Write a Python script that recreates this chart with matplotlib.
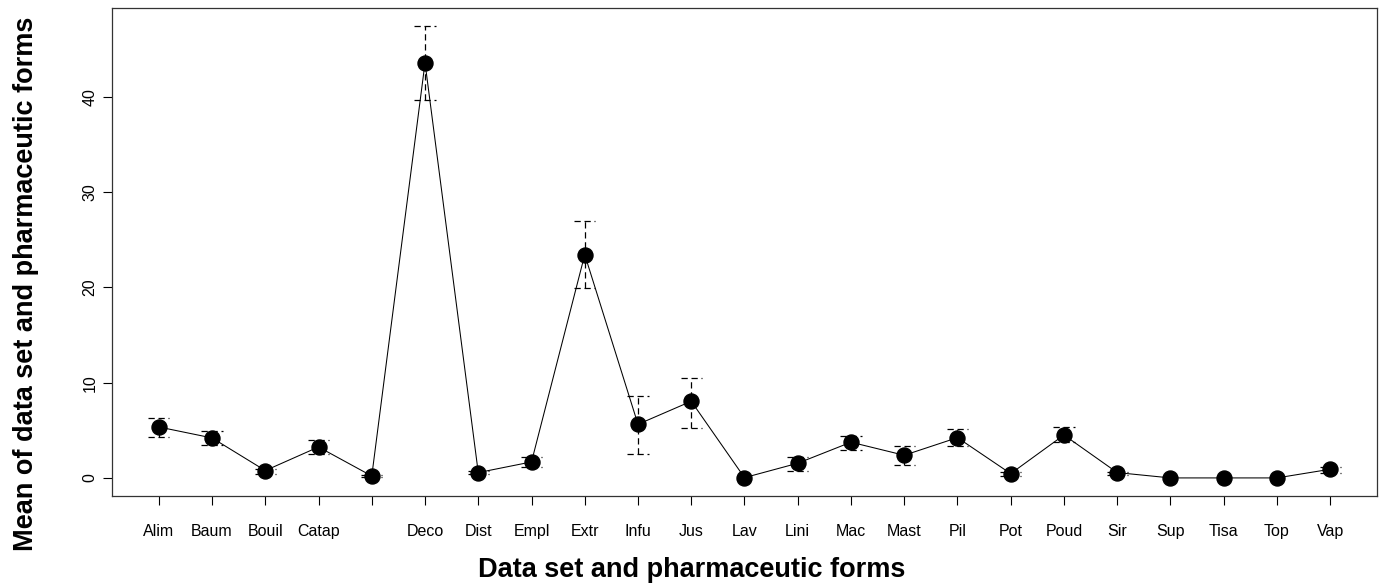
import matplotlib.pyplot as plt
import numpy as np

plt.rcParams['font.family'] = ['Liberation Sans', 'DejaVu Sans']

# pharmaceutic forms (the fifth label is not printed on the axis)
forms = ["Alim", "Baum", "Bouil", "Catap", "", "Deco", "Dist", "Empl", "Extr",
         "Infu", "Jus", "Lav", "Lini", "Mac", "Mast", "Pil", "Pot", "Poud",
         "Sir", "Sup", "Tisa", "Top", "Vap"]
means = [5.35, 4.2, 0.77, 3.25, 0.2, 43.6, 0.56, 1.68, 23.45,
         5.63, 8.05, 0.03, 1.54, 3.75, 2.38, 4.23, 0.45, 4.51,
         0.56, 0.0, 0.0, 0.0, 0.91]
upper = [6.27, 4.93, 0.95, 3.99, 0.3, 47.45, 0.7, 2.2, 27.0,
         8.6, 10.53, 0.03, 2.24, 4.41, 3.4, 5.14, 0.66, 5.35,
         0.66, 0.0, 0.0, 0.0, 1.15]
lower = [4.3, 3.46, 0.42, 2.49, 0.12, 39.7, 0.42, 1.15, 19.9,
         2.55, 5.25, 0.03, 0.7, 2.9, 1.37, 3.32, 0.25, 3.8,
         0.31, 0.0, 0.0, 0.0, 0.52]

x = np.arange(1, len(forms) + 1)

fig = plt.figure(figsize=(13.82, 5.84), dpi=100)
ax = fig.add_axes([0.081, 0.1507, 0.9154, 0.8355])

# dashed error bars with flat caps
cap = 0.2
dash = (0, (5, 3))
for xi, lo, hi in zip(x, lower, upper):
    if hi - lo <= 0:
        continue
    ax.plot([xi, xi], [lo, hi], color='black', lw=0.9, ls=dash)
    ax.plot([xi - cap, xi + cap], [hi, hi], color='black', lw=0.9, ls=dash)
    ax.plot([xi - cap, xi + cap], [lo, lo], color='black', lw=0.9, ls=dash)

ax.plot(x, means, '-o', color='black', lw=0.75, markersize=10.8)

span = 47.45
ax.set_ylim(-0.04 * span, span * 1.04)
ax.set_xlim(1 - 0.04 * 22, 23 + 0.04 * 22)
ax.set_yticks([0, 10, 20, 30, 40])
ax.set_xticks(x)
ax.set_xticklabels(forms)
for lbl in ax.get_yticklabels():
    lbl.set_rotation(90)
    lbl.set_va('center')

ax.tick_params(axis='x', length=6.5, width=0.8, pad=14, labelsize=11.5)
ax.tick_params(axis='y', length=6.5, width=0.8, pad=4, labelsize=11.5)
for s in ax.spines.values():
    s.set_linewidth(0.9)
    s.set_color('#333333')

ax.set_xlabel("Data set and pharmaceutic forms", fontsize=19.5,
              fontweight='bold', va='center')
ax.set_ylabel("Mean of data set and pharmaceutic forms", fontsize=19.5,
              fontweight='bold', va='center')
ax.xaxis.set_label_coords(0.4585, -0.1516)
ax.yaxis.set_label_coords(-0.068, 0.434)

fig.savefig('out.png', dpi=100)
